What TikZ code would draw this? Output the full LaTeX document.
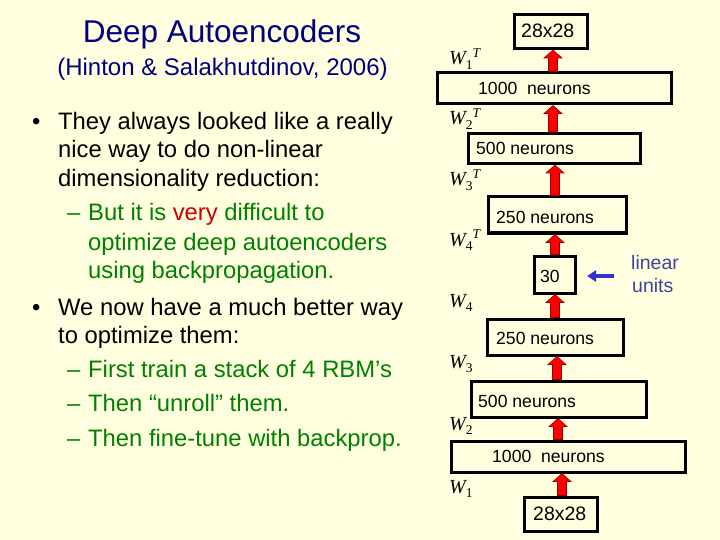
\documentclass[tikz,border=0pt]{standalone}
\usepackage{fontspec}
\setmainfont{Liberation Sans}
\newfontfamily\wfont{Liberation Serif}
\usetikzlibrary{arrows.meta,calc}
\definecolor{bg}{RGB}{255,255,224}
\definecolor{navy}{RGB}{0,0,128}
\definecolor{tgreen}{RGB}{0,128,0}
\definecolor{tred}{RGB}{204,0,0}
\definecolor{lblue}{RGB}{64,64,160}
\definecolor{ablue}{RGB}{51,51,204}
\definecolor{darr}{RGB}{150,0,0}
\newcommand\Wl[2]{{\wfont\fontsize{20}{20}\selectfont\itshape W}\raisebox{-4.5pt}{\wfont\fontsize{13.5}{13.5}\selectfont #1}\raisebox{7.5pt}{\wfont\itshape\fontsize{13.5}{13.5}\selectfont #2}}
\newcommand\uparr[3]{\path[blockarr] let \p1=(#1.north -| #3), \p2=(#2.south -| #3) in
  (\x1-4.5pt,\y1) -- (\x1-4.5pt,\y2-8pt) -- (\x1-9pt,\y2-8pt) -- (\x1,\y2) -- (\x1+9pt,\y2-8pt) -- (\x1+4.5pt,\y2-8pt) -- (\x1+4.5pt,\y1) -- cycle;}
\begin{document}
\begin{tikzpicture}[x=1pt,y=-1pt,
  box/.style={draw=black, line width=3pt, inner sep=0pt},
  body/.style={anchor=base west, inner sep=0pt, font=\fontsize{23.8}{28}\selectfont},
  subtxt/.style={body, text=tgreen},
  btxt/.style={anchor=base west, inner sep=0pt, font=\fontsize{17.6}{20}\selectfont},
  bigtxt/.style={anchor=base west, inner sep=0pt, font=\fontsize{19.5}{22}\selectfont},
  wlab/.style={anchor=base west, inner sep=0pt},
  blockarr/.style={fill=red, draw=darr, line width=0.6pt},
  bluearr/.style={draw=ablue, line width=3.5pt, -{Triangle[length=9pt,width=11pt]}},
  lintxt/.style={anchor=base west, inner sep=0pt, text=lblue, font=\fontsize{19.5}{22}\selectfont}]
\useasboundingbox (0,0) rectangle (720,540);
\fill[bg] (0,0) rectangle (720,540);

% title
\node[anchor=base, inner sep=0pt, text=navy, font=\fontsize{31.5}{34}\selectfont] (title) at (222,43) {Deep Autoencoders};
\node[anchor=base, inner sep=0pt, text=navy, font=\fontsize{24}{26}\selectfont] (subtitle) at (222.5,76) {(Hinton \& Salakhutdinov, 2006)};

% bullets
\node[body] (bul1) at (32,130) {•};
\node[body] (l1) at (58,130) {They always looked like a really};
\node[body] (l2) at (58,158) {nice way to do non-linear};
\node[body] (l3) at (58,187) {dimensionality reduction:};
\node[subtxt] (d1) at (67,221) {–};
\node[subtxt] (l4) at (88,221) {But it is \textcolor{tred}{very} difficult to};
\node[subtxt] (l5) at (88,250) {optimize deep autoencoders};
\node[subtxt] (l6) at (88,278) {using backpropagation.};
\node[body] (bul2) at (32,315) {•};
\node[body] (l7) at (58,315) {We now have a much better way};
\node[body] (l8) at (58,343) {to optimize them:};
\node[subtxt] (d2) at (67,377) {–};
\node[subtxt] (l9) at (88,377) {First train a stack of 4 RBM’s};
\node[subtxt] (d3) at (67,411) {–};
\node[subtxt] (l10) at (88,411) {Then “unroll” them.};
\node[subtxt] (d4) at (67,446) {–};
\node[subtxt] (l11) at (88,446) {Then fine-tune with backprop.};

% boxes
\node[box, minimum width=73pt, minimum height=34pt] (t28) at (550.5,31.5) {};
\node[box, minimum width=234pt, minimum height=31pt] (t1000) at (554,88.5) {};
\node[box, minimum width=172pt, minimum height=30pt] (t500) at (554,148.5) {};
\node[box, minimum width=138pt, minimum height=36pt] (t250) at (557,215) {};
\node[box, minimum width=41pt, minimum height=37pt] (b30) at (554.5,274.5) {};
\node[box, minimum width=136pt, minimum height=36pt] (l250) at (555,337) {};
\node[box, minimum width=175pt, minimum height=36pt] (l500) at (558.5,399) {};
\node[box, minimum width=234pt, minimum height=31pt] (l1000) at (568,456.5) {};
\node[box, minimum width=73pt, minimum height=34pt] (l28) at (560.5,514) {};

% box texts
\node[bigtxt] (t28t) at (521,38) {28x28};
\node[btxt] (t1000t) at (478,95) {1000~~neurons};
\node[btxt] (t500t) at (476,155) {500 neurons};
\node[btxt] (t250t) at (496,223) {250 neurons};
\node[btxt] (b30t) at (540,282) {30};
\node[btxt] (l250t) at (496,344) {250 neurons};
\node[btxt] (l500t) at (478,407) {500 neurons};
\node[btxt] (l1000t) at (492,462) {1000~~neurons};
\node[bigtxt] (l28t) at (533,520) {28x28};

% weight labels
\node[wlab] (w1t) at (449,65) {\Wl{1}{T}};
\node[wlab] (w2t) at (449,125) {\Wl{2}{T}};
\node[wlab] (w3t) at (449,186) {\Wl{3}{T}};
\node[wlab] (w4t) at (449,246) {\Wl{4}{T}};
\node[wlab] (w4) at (449,307) {\Wl{4}{}};
\node[wlab] (w3) at (449,368) {\Wl{3}{}};
\node[wlab] (w2) at (449,430) {\Wl{2}{}};
\node[wlab] (w1) at (449,493) {\Wl{1}{}};

% arrow columns
\coordinate (ax1) at (553,0);
\coordinate (ax2) at (553,0);
\coordinate (ax3) at (555,0);
\coordinate (ax4) at (555,0);
\coordinate (ax5) at (555,0);
\coordinate (ax6) at (557,0);
\coordinate (ax7) at (558,0);
\coordinate (ax8) at (562,0);

\uparr{t1000}{t28}{ax1}
\uparr{t500}{t1000}{ax2}
\uparr{t250}{t500}{ax3}
\uparr{b30}{t250}{ax4}
\uparr{l250}{b30}{ax5}
\uparr{l500}{l250}{ax6}
\uparr{l1000}{l500}{ax7}
\uparr{l28}{l1000}{ax8}

% linear units
\node[lintxt] (lin1) at (631,269) {linear};
\node[lintxt] (lin2) at (632,292) {units};
\coordinate (la) at (614,276);
\coordinate (lb) at (587,276);
\draw[bluearr] (la) -- (lb);
\end{tikzpicture}
\end{document}
